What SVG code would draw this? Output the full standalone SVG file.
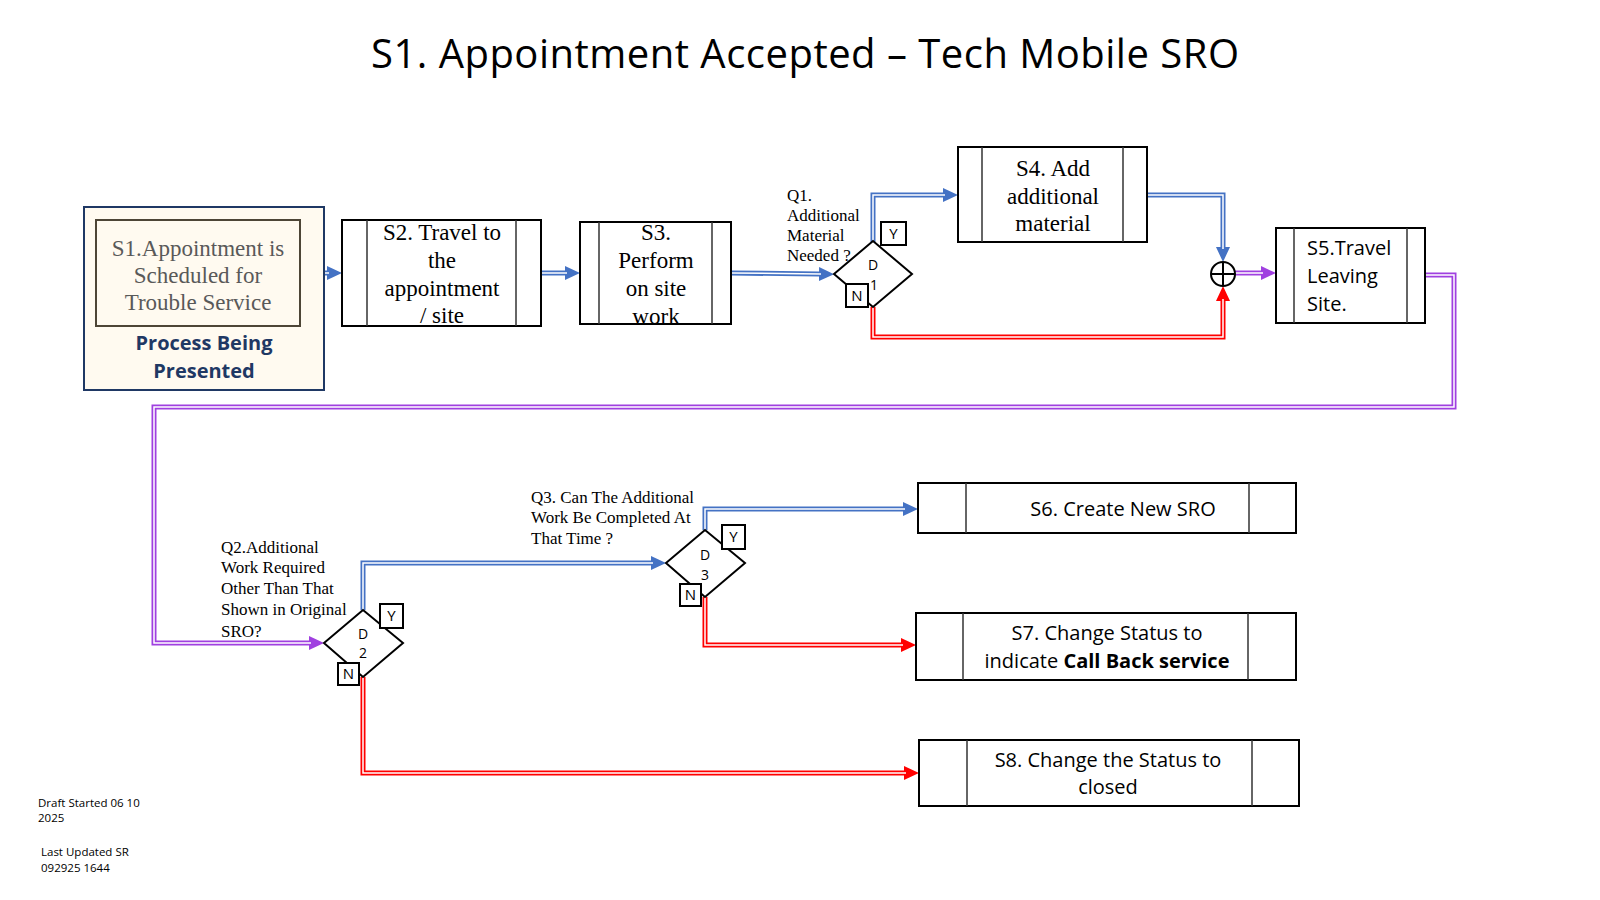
<svg xmlns="http://www.w3.org/2000/svg" width="1600" height="900" viewBox="0 0 1600 900">
<style>
.box{fill:#fff;stroke:#000;stroke-width:2}
.bar{stroke:#333;stroke-width:1.5}
.serif{font-family:"Liberation Serif","Times New Roman",serif;fill:#000}
.sans{font-family:"Open Sans","Noto Sans","Liberation Sans",sans-serif;fill:#000}
.ptext{font-size:23px;text-anchor:middle}
.q{font-size:17px}
.stext{font-size:20px;text-anchor:middle}
.dia{fill:#fff;stroke:#000;stroke-width:2}
.dl{font-size:14px;text-anchor:middle}
.yn{fill:#fff;stroke:#000;stroke-width:2}
.ynt{font-size:15px;text-anchor:middle}
.line{fill:none;stroke-width:5}
.inner{fill:none;stroke:#fff;stroke-width:1.5}
.blue{stroke:#4472c4}
.red{stroke:#ff0000}
.purple{stroke:#a040e0}
</style>
<defs>
<marker id="ab" markerUnits="userSpaceOnUse" markerWidth="15" markerHeight="14" refX="0" refY="7" orient="auto"><path d="M0,0 L15,7 L0,14 z" fill="#4472c4"/></marker>
<marker id="ar" markerUnits="userSpaceOnUse" markerWidth="15" markerHeight="14" refX="0" refY="7" orient="auto"><path d="M0,0 L15,7 L0,14 z" fill="#ff0000"/></marker>
<marker id="ap" markerUnits="userSpaceOnUse" markerWidth="15" markerHeight="14" refX="0" refY="7" orient="auto"><path d="M0,0 L15,7 L0,14 z" fill="#a040e0"/></marker>
</defs>
<rect width="1600" height="900" fill="#fff"/>

<text id="title" class="sans" x="805" y="68" font-size="40" text-anchor="middle" textLength="868">S1. Appointment Accepted – Tech Mobile SRO</text>

<g id="connectors">
  <g class="line blue">
    <path d="M300,273 L327,273" marker-end="url(#ab)"/>
    <path d="M541,273 L565,273" marker-end="url(#ab)"/>
    <path d="M731,273 L819,274" marker-end="url(#ab)"/>
    <path d="M873,242 L873,195 L943,195" marker-end="url(#ab)"/>
    <path d="M1147,195 L1223,195 L1223,247" marker-end="url(#ab)"/>
    <path d="M363,610 L363,563 L651,563" marker-end="url(#ab)"/>
    <path d="M705,530 L705,509 L903,509" marker-end="url(#ab)"/>
  </g>
  <g class="line red">
    <path d="M873,307 L873,337 L1223,337 L1223,301" marker-end="url(#ar)"/>
    <path d="M705,597 L705,645 L901,645" marker-end="url(#ar)"/>
    <path d="M363,677 L363,773 L904,773" marker-end="url(#ar)"/>
  </g>
  <g class="line purple">
    <path d="M1235,273 L1261,273" marker-end="url(#ap)"/>
    <path d="M1425,275 L1454,275 L1454,407 L154,407 L154,643 L309,643" marker-end="url(#ap)"/>
  </g>
  <g class="inner">
    <path d="M300,273 L329,273"/>
    <path d="M541,273 L567,273"/>
    <path d="M731,273 L821,274"/>
    <path d="M873,242 L873,195 L945,195"/>
    <path d="M1147,195 L1223,195 L1223,249"/>
    <path d="M363,610 L363,563 L653,563"/>
    <path d="M705,530 L705,509 L905,509"/>
    <path d="M873,307 L873,337 L1223,337 L1223,299"/>
    <path d="M705,597 L705,645 L903,645"/>
    <path d="M363,677 L363,773 L906,773"/>
    <path d="M1235,273 L1263,273"/>
    <path d="M1425,275 L1454,275 L1454,407 L154,407 L154,643 L311,643"/>
  </g>
</g>

<g id="S1">
  <rect x="84" y="207" width="240" height="183" fill="#fffaf0" stroke="#1f3864" stroke-width="2"/>
  <rect x="96" y="220" width="204" height="106" fill="none" stroke="#4d4536" stroke-width="2"/>
  <text class="serif ptext" x="198" style="fill:#595959"><tspan x="198" y="256">S1.Appointment is</tspan><tspan x="198" y="283">Scheduled for</tspan><tspan x="198" y="310">Trouble Service</tspan></text>
  <text class="sans" x="204" font-size="20" font-weight="bold" text-anchor="middle" style="fill:#1f3864"><tspan x="204" y="350">Process Being</tspan><tspan x="204" y="378">Presented</tspan></text>
</g>

<g id="S2">
  <rect class="box" x="342" y="220" width="199" height="106"/>
  <line class="bar" x1="367" y1="220" x2="367" y2="326"/>
  <line class="bar" x1="516" y1="220" x2="516" y2="326"/>
  <text class="serif ptext"><tspan x="442" y="240">S2. Travel to</tspan><tspan x="442" y="268">the</tspan><tspan x="442" y="296">appointment</tspan><tspan x="442" y="323">/ site</tspan></text>
</g>

<g id="S3">
  <rect class="box" x="580" y="222" width="151" height="102"/>
  <line class="bar" x1="599" y1="222" x2="599" y2="324"/>
  <line class="bar" x1="712" y1="222" x2="712" y2="324"/>
  <text class="serif ptext"><tspan x="656" y="240">S3.</tspan><tspan x="656" y="268">Perform</tspan><tspan x="656" y="296">on site</tspan><tspan x="656" y="324">work</tspan></text>
</g>

<g id="D1">
  <polygon class="dia" points="834,274 873,241 912,274 873,307"/>
  <text class="sans dl"><tspan x="873" y="270">D</tspan><tspan x="874" y="290">1</tspan></text>
  <rect class="yn" x="881" y="222" width="25" height="23"/>
  <text class="sans ynt" x="893.5" y="239">Y</text>
  <rect class="yn" x="846" y="284" width="22" height="23"/>
  <text class="sans ynt" x="857" y="301">N</text>
  <text class="serif q"><tspan x="787" y="201">Q1.</tspan><tspan x="787" y="221">Additional</tspan><tspan x="787" y="241">Material</tspan><tspan x="787" y="261">Needed ?</tspan></text>
</g>

<g id="S4">
  <rect class="box" x="958" y="147" width="189" height="95"/>
  <line class="bar" x1="982" y1="147" x2="982" y2="242"/>
  <line class="bar" x1="1123" y1="147" x2="1123" y2="242"/>
  <text class="serif ptext"><tspan x="1053" y="176">S4. Add</tspan><tspan x="1053" y="204">additional</tspan><tspan x="1053" y="231">material</tspan></text>
</g>

<g id="merge">
  <circle cx="1223" cy="274" r="12" fill="#fff" stroke="#000" stroke-width="2"/>
  <line x1="1211" y1="274" x2="1235" y2="274" stroke="#000" stroke-width="2"/>
  <line x1="1223" y1="262" x2="1223" y2="286" stroke="#000" stroke-width="2"/>
</g>

<g id="S5">
  <rect class="box" x="1276" y="228" width="149" height="95"/>
  <line class="bar" x1="1294" y1="228" x2="1294" y2="323"/>
  <line class="bar" x1="1407" y1="228" x2="1407" y2="323"/>
  <text class="sans" font-size="20"><tspan x="1307" y="255">S5.Travel</tspan><tspan x="1307" y="283">Leaving</tspan><tspan x="1307" y="311">Site.</tspan></text>
</g>

<g id="D2">
  <polygon class="dia" points="324,643 363,610 403,643 363,677"/>
  <text class="sans dl"><tspan x="363" y="639">D</tspan><tspan x="363" y="658">2</tspan></text>
  <rect class="yn" x="380" y="604" width="23" height="24"/>
  <text class="sans ynt" x="391.5" y="621">Y</text>
  <rect class="yn" x="338" y="663" width="21" height="22"/>
  <text class="sans ynt" x="348.5" y="679">N</text>
  <text class="serif q"><tspan x="221" y="553">Q2.Additional</tspan><tspan x="221" y="573">Work Required</tspan><tspan x="221" y="594">Other Than That</tspan><tspan x="221" y="615">Shown in Original</tspan><tspan x="221" y="637">SRO?</tspan></text>
</g>

<g id="D3">
  <polygon class="dia" points="666,563 705,530 745,563 705,597"/>
  <text class="sans dl"><tspan x="705" y="560">D</tspan><tspan x="705" y="580">3</tspan></text>
  <rect class="yn" x="722" y="525" width="23" height="24"/>
  <text class="sans ynt" x="733.5" y="542">Y</text>
  <rect class="yn" x="680" y="584" width="21" height="22"/>
  <text class="sans ynt" x="690.5" y="600">N</text>
  <text class="serif q"><tspan x="531" y="503">Q3. Can The Additional</tspan><tspan x="531" y="523">Work Be Completed At</tspan><tspan x="531" y="544">That Time ?</tspan></text>
</g>

<g id="S6">
  <rect class="box" x="918" y="483" width="378" height="50"/>
  <line class="bar" x1="966" y1="483" x2="966" y2="533"/>
  <line class="bar" x1="1249" y1="483" x2="1249" y2="533"/>
  <text class="sans stext" x="1123" y="516">S6. Create New SRO</text>
</g>

<g id="S7">
  <rect class="box" x="916" y="613" width="380" height="67"/>
  <line class="bar" x1="963" y1="613" x2="963" y2="680"/>
  <line class="bar" x1="1248" y1="613" x2="1248" y2="680"/>
  <text class="sans stext"><tspan x="1107" y="640">S7. Change Status to</tspan><tspan x="1107" y="668">indicate <tspan font-weight="bold">Call Back service</tspan></tspan></text>
</g>

<g id="S8">
  <rect class="box" x="919" y="740" width="380" height="66"/>
  <line class="bar" x1="967" y1="740" x2="967" y2="806"/>
  <line class="bar" x1="1252" y1="740" x2="1252" y2="806"/>
  <text class="sans stext"><tspan x="1108" y="767">S8. Change the Status to</tspan><tspan x="1108" y="794">closed</tspan></text>
</g>

<g id="footer">
  <text class="sans" font-size="11.5"><tspan x="38" y="807">Draft Started 06 10</tspan><tspan x="38" y="822">2025</tspan></text>
  <text class="sans" font-size="11.5"><tspan x="41" y="856">Last Updated SR</tspan><tspan x="41" y="872">092925 1644</tspan></text>
</g>
</svg>
